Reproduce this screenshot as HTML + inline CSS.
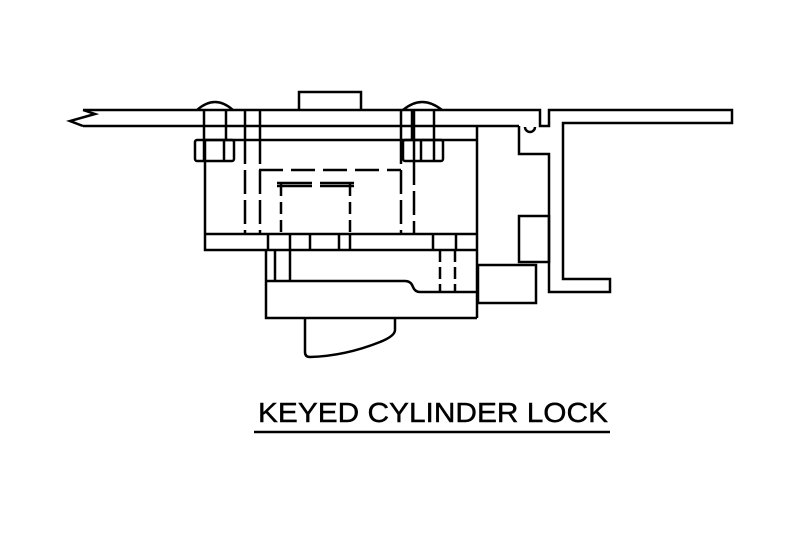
<!DOCTYPE html>
<html><head><meta charset="utf-8"><style>html,body{margin:0;padding:0;background:#fff}svg{display:block}</style></head>
<body>
<svg width="802" height="536" viewBox="0 0 802 536" xmlns="http://www.w3.org/2000/svg">
<g fill="none" stroke="#000" stroke-width="2.5" stroke-linejoin="miter">
<path d="M83,110 L95,114 L70,121 L83,126"/>
<path d="M83,110 H540 V126 H549 V110 H732 V123 H563 V279 H610 V292 H549 V154 H519 V126"/>
<path d="M83,126 H519"/>
<path d="M525,127 a5,5 0 0 0 10,0"/>
<rect x="519" y="216" width="30" height="46"/>
<rect x="478" y="265" width="58" height="38"/>
<path d="M299,110 V92 H361 V110"/>
<path d="M477,126 V318"/>
<path d="M205,140 H477"/>
<path d="M205,140 V250 H477"/>
<path d="M205,234 H477"/>
<path d="M266,250 V318 H477"/>
<path d="M266,281 H405 Q411,281 413,287 Q415,292 420,292 H477"/>
<path d="M275,250 V281 M290,250 V281"/>
<path d="M268,234 V250 M290,234 V250 M310,234 V250 M339,234 V250 M350,234 V250 M433,234 V250 M456,234 V250"/>
<path d="M440,250 V292 M455,250 V292" stroke-dasharray="12,5"/>
<path d="M305,318 V352 Q305,357 310,357 Q345,356 380,342 Q395,336 395,330 V318"/>
<path d="M197,110 Q215,94 233,110"/>
<path d="M204,110 V140 M226,110 V140"/>
<rect x="195" y="140" width="39" height="21" rx="2"/>
<path d="M204,140 V161 M224,140 V161"/>
<path d="M403,110 Q422,94 442,110"/>
<path d="M401,110 V140 M412,110 V140 M414,110 V161 M434,110 V140"/>
<rect x="403" y="140" width="40" height="21" rx="2"/>
<path d="M421,140 V161 M434,140 V161"/>
<path d="M245,110 V140 M260,110 V140"/>
<path d="M245,140 V234 M260,140 V234 M401,140 V234 M414,161 V234" stroke-dasharray="24,6"/>
<path d="M259,170 H401" stroke-dasharray="24,8"/>
<path d="M281,184 V234 M350,184 V234" stroke-dasharray="12,6"/>
<path d="M277,183 H312 M320,183 H354 M277,186 H312 M320,186 H354"/>
<path d="M254,432 H610"/>
</g>
<text x="258" y="422" font-family="Liberation Sans, Arial, sans-serif" font-size="28" textLength="350" lengthAdjust="spacingAndGlyphs" fill="#000" stroke="#000" stroke-width="0.4">KEYED CYLINDER LOCK</text>
</svg>
</body></html>
